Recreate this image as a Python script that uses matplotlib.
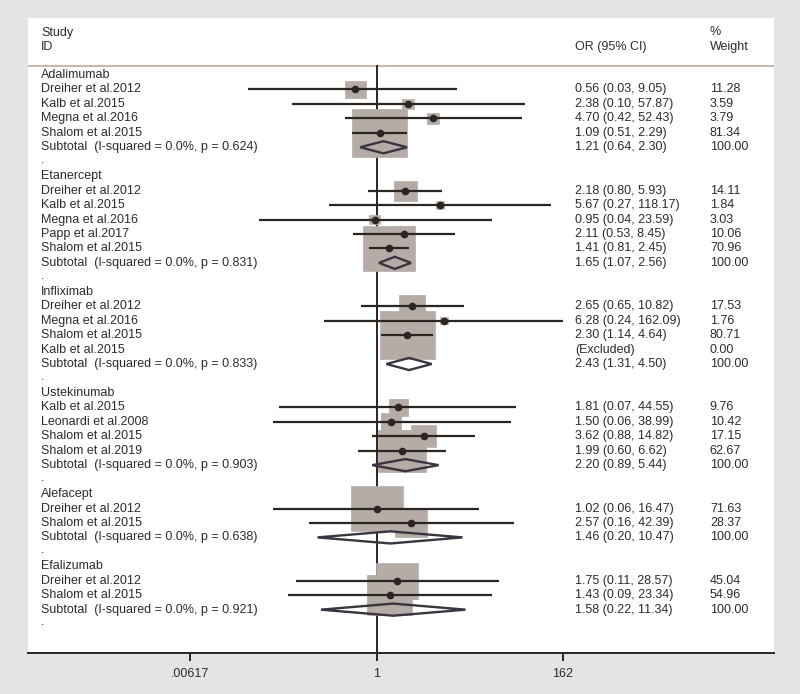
import numpy as np
import matplotlib
matplotlib.use("Agg")
import matplotlib.pyplot as plt
from matplotlib.patches import Rectangle, Polygon
from matplotlib.transforms import blended_transform_factory

plt.rcParams['font.family'] = ['Liberation Sans', 'DejaVu Sans']

# ----- data -----
groups = ["Adalimumab", "Etanercept", "Infliximab", "Ustekinumab", "Alefacept", "Efalizumab"]

studies = [
    ["Dreiher et al.2012", "Kalb et al.2015", "Megna et al.2016", "Shalom et al.2015"],
    ["Dreiher et al.2012", "Kalb et al.2015", "Megna et al.2016", "Papp et al.2017", "Shalom et al.2015"],
    ["Dreiher et al.2012", "Megna et al.2016", "Shalom et al.2015", "Kalb et al.2015"],
    ["Kalb et al.2015", "Leonardi et al.2008", "Shalom et al.2015", "Shalom et al.2019"],
    ["Dreiher et al.2012", "Shalom et al.2015"],
    ["Dreiher et al.2012", "Shalom et al.2015"],
]
odds = [
    [0.56, 2.38, 4.70, 1.09],
    [2.18, 5.67, 0.95, 2.11, 1.41],
    [2.65, 6.28, 2.30, None],
    [1.81, 1.50, 3.62, 1.99],
    [1.02, 2.57],
    [1.75, 1.43],
]
ci_lo = [
    [0.03, 0.10, 0.42, 0.51],
    [0.80, 0.27, 0.04, 0.53, 0.81],
    [0.65, 0.24, 1.14, None],
    [0.07, 0.06, 0.88, 0.60],
    [0.06, 0.16],
    [0.11, 0.09],
]
ci_hi = [
    [9.05, 57.87, 52.43, 2.29],
    [5.93, 118.17, 23.59, 8.45, 2.45],
    [10.82, 162.09, 4.64, None],
    [44.55, 38.99, 14.82, 6.62],
    [16.47, 42.39],
    [28.57, 23.34],
]
weights = [
    [11.28, 3.59, 3.79, 81.34],
    [14.11, 1.84, 3.03, 10.06, 70.96],
    [17.53, 1.76, 80.71, 0.00],
    [9.76, 10.42, 17.15, 62.67],
    [71.63, 28.37],
    [45.04, 54.96],
]
sub_or = [1.21, 1.65, 2.43, 2.20, 1.46, 1.58]
sub_lo = [0.64, 1.07, 1.31, 0.89, 0.20, 0.22]
sub_hi = [2.30, 2.56, 4.50, 5.44, 10.47, 11.34]
sub_i2 = [0.0, 0.0, 0.0, 0.0, 0.0, 0.0]
sub_p = ["0.624", "0.831", "0.833", "0.903", "0.638", "0.921"]

xticks = [1 / 162, 1, 162]
xtick_labels = [".00617", "1", "162"]

# ----- styling -----
BG = "#e4e4e4"
TXT = "#302b28"
INK = "#2b2623"
BOX = "#b5aca7"
DIAM = "#3a3640"
HDR_LINE = "#c4a99c"
FS = 9

ROW_PX = 14.45   # pixel height of one row
DEC_PX = 84.4    # pixels per decade on the OR axis

fig = plt.figure(figsize=(8, 6.94), dpi=100, facecolor=BG)
ax = fig.add_axes([28 / 800, 41 / 694, 746 / 800, 635 / 694])
ax.set_facecolor("white")
ax.set_xscale("log")
ax.set_xlim(10 ** (-348.5 / DEC_PX), 10 ** (397.5 / DEC_PX))
ax.set_ylim(40.0, -3.945)

tr = blended_transform_factory(ax.transAxes, ax.transData)
X_LAB, X_OR, X_W = 0.0174, 0.733, 0.914


def put(x, y, s):
    ax.text(x, y, s, transform=tr, fontsize=FS, color=TXT, va="center")


# header
put(X_LAB, -2.9, "Study")
put(X_LAB, -1.93, "ID")
put(X_OR, -1.93, "OR (95% CI)")
put(X_W, -2.95, "%")
put(X_W, -1.93, "Weight")
ax.axhline(-0.62, color=HDR_LINE, lw=1.2, zorder=1)

# reference line at OR = 1
ax.plot([1, 1], [-0.62, 40.0], color=INK, lw=1.4, zorder=1, clip_on=False)

row = 0
for g, name in enumerate(groups):
    put(X_LAB, row, name)
    row += 1
    for k, st in enumerate(studies[g]):
        put(X_LAB, row, st)
        e, l, h, w = odds[g][k], ci_lo[g][k], ci_hi[g][k], weights[g][k]
        if e is None:
            put(X_OR, row, "(Excluded)")
        else:
            put(X_OR, row, f"{e:.2f} ({l:.2f}, {h:.2f})")
            # weight box (area ~ weight)
            hpx = 5.32 * np.sqrt(w)
            hw = 1.15 * hpx / 2 / DEC_PX
            ax.add_patch(Rectangle((e * 10 ** -hw, row - hpx / ROW_PX / 2),
                                   e * 10 ** hw - e * 10 ** -hw, hpx / ROW_PX,
                                   facecolor=BOX, edgecolor=BOX, lw=0.5, zorder=2))
            ax.plot([l, h], [row, row], color=INK, lw=1.6, zorder=3, solid_capstyle="butt")
            ax.plot([e], [row], "o", color=INK, ms=4.5, zorder=4)
        put(X_W, row, f"{w:.2f}")
        row += 1
    # subtotal
    put(X_LAB, row, f"Subtotal  (I-squared = {sub_i2[g]:.1f}%, p = {sub_p[g]})")
    put(X_OR, row, f"{sub_or[g]:.2f} ({sub_lo[g]:.2f}, {sub_hi[g]:.2f})")
    put(X_W, row, "100.00")
    dh = 0.42
    ax.add_patch(Polygon([(sub_lo[g], row), (sub_or[g], row - dh), (sub_hi[g], row),
                          (sub_or[g], row + dh)], closed=True, fill=False,
                         edgecolor=DIAM, lw=1.7, zorder=5))
    row += 1
    put(X_LAB, row - 0.12, ".")
    row += 1

# axis
for s in ["top", "left", "right"]:
    ax.spines[s].set_visible(False)
ax.spines["bottom"].set_color(INK)
ax.spines["bottom"].set_linewidth(1.4)
ax.set_yticks([])
ax.set_xticks(xticks)
ax.set_xticklabels(xtick_labels)
ax.minorticks_off()
ax.tick_params(axis="x", length=6, width=1.4, color=INK, labelcolor=TXT,
               labelsize=FS, pad=5)

fig.savefig("out.png", dpi=100, facecolor=BG)
